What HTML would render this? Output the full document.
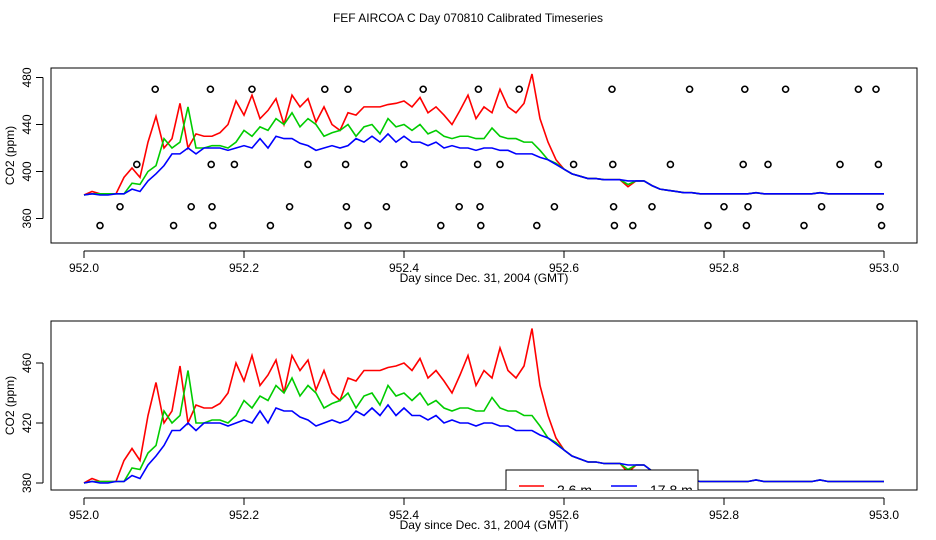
<!DOCTYPE html>
<html><head><meta charset="utf-8"><style>
body{margin:0;background:#fff}
svg{display:block;font-family:"Liberation Sans",sans-serif}
</style></head><body>
<svg id="c" width="936" height="540" viewBox="0 0 936 540">
<text x="468" y="22" text-anchor="middle" font-size="12">FEF AIRCOA C  Day 070810  Calibrated Timeseries</text>
</svg>
<script>
const days=[];for(let i=0;i<=100;i++)days.push(952+i/100);
const tail=[402,398,396,394,394,393,393,393,387,392,392,388,385,384,383,382,382,381,381,381,381,381,381,381,382,381,381,381,381,381,381,381,382,381,381,381,381,381,381,381,381];
const red=[380,383,381,381,381,395,403,395,425,447,420,428,458,420,432,430,430,433,440,460,448,465,445,452,462,440,465,455,462,442,455,440,435,450,448,455,455,455,457,458,460,455,463,450,455,448,440,452,465,445,455,450,470,455,450,458,483,445,425,410].concat(tail);
const green=[380,381,381,381,381,381,390,389,400,405,428,420,425,455,420,420,422,422,420,425,435,430,438,435,445,440,450,438,445,440,430,433,435,440,430,438,440,432,445,438,440,435,440,432,435,430,428,430,430,428,428,437,430,428,428,425,425,418,410,407].concat(tail.map((v,i)=>i==8?389:v));
const blue=[380,381,380,380,381,381,385,383,392,398,405,415,415,420,415,420,420,420,418,420,422,420,428,420,430,428,428,424,422,418,420,422,420,422,428,425,430,425,432,425,430,425,425,422,425,420,422,420,420,418,420,420,418,418,415,415,415,412,410,406].concat(tail.map(v=>v==387?392:v));
const obsDays=[952.02,952.045,952.066,952.089,952.112,952.134,952.158,952.159,952.160,952.161,952.188,952.21,952.233,952.257,952.28,952.301,952.33,952.328,952.327,952.33,952.355,952.378,952.4,952.424,952.446,952.469,952.492,952.493,952.495,952.496,952.52,952.544,952.566,952.588,952.612,952.66,952.661,952.662,952.663,952.686,952.71,952.733,952.757,952.78,952.8,952.824,952.826,952.828,952.83,952.855,952.877,952.9,952.922,952.945,952.968,952.99,952.993,952.995,952.997];
const obsVals=[354,370,406,470,354,370,470,406,370,354,406,470,354,370,406,470,354,370,406,470,354,370,406,470,354,370,406,470,370,354,406,470,354,370,406,470,406,370,354,354,370,406,470,354,370,406,470,354,370,406,470,354,370,406,470,470,406,370,354];
const yTicks1=[360,400,440,480], yTicks2=[380,420,460], xTicks=[952.0,952.2,952.4,952.6,952.8,953.0];
const svg=document.getElementById('c'),NS='http://www.w3.org/2000/svg';
function el(t,a,p){const e=document.createElementNS(NS,t);for(const k in a)e.setAttribute(k,a[k]);(p||svg).appendChild(e);return e;}
const X=d=>84+(d-952)*800;
function panel(name,top,bot,yv0,y0,pp,yt,circles){
  const g=el('g',{});
  
  
  const Y=v=>y0-(v-yv0)*pp;
  const cid='clip-'+name;
  const cp=el('clipPath',{id:cid},g);el('rect',{x:51,y:top,width:866,height:bot-top},cp);
  const f=el('rect',{x:51,y:top,width:866,height:bot-top,fill:'none',stroke:'#000'},g);
  
  
  const ax=el('line',{x1:X(952),x2:X(953),y1:bot+8,y2:bot+8,stroke:'#000'},g);
  
  
  xTicks.forEach(t=>{el('line',{x1:X(t),x2:X(t),y1:bot+8,y2:bot+15,stroke:'#000'},g);
    const tx=el('text',{x:X(t),y:bot+29,'text-anchor':'middle','font-size':12},g);tx.textContent=t.toFixed(1);
    
    });
  const xt=el('text',{x:484,y:bot+39,'text-anchor':'middle','font-size':12},g);xt.textContent='Day since Dec. 31, 2004 (GMT)';
  
  
  const ya=el('line',{x1:43,x2:43,y1:Y(yt[0]),y2:Y(yt[yt.length-1]),stroke:'#000'},g);
  
  
  yt.forEach(t=>{el('line',{x1:36,x2:43,y1:Y(t),y2:Y(t),stroke:'#000'},g);
    const tx=el('text',{x:31,y:Y(t),'text-anchor':'middle','font-size':12,transform:`rotate(-90 31 ${Y(t)})`},g);tx.textContent=t;
    
    });
  const yc=(top+bot)/2;
  const ytl=el('text',{x:14,y:yc,'text-anchor':'middle','font-size':12,transform:`rotate(-90 14 ${yc})`},g);ytl.textContent='CO2 (ppm)';
  
  
  const pg=el('g',{'clip-path':`url(#${cid})`},g);
  [[red,'#f00','red-series'],[green,'#0c0','green-series'],[blue,'#00f','blue-series']].forEach(([s,c,n])=>{
    const p=el('polyline',{points:s.map((v,i)=>X(days[i])+','+Y(v)).join(' '),fill:'none',stroke:c,'stroke-width':1.6},pg);
    
    });
  if(circles)obsDays.forEach((d,i)=>{const c=el('circle',{cx:X(d),cy:Y(obsVals[i]),r:3,fill:'none',stroke:'#000','stroke-width':1.6},pg);
    
    });
  return {g,Y,pg};
}
panel('top-panel',68,243,380,195,1.175,yTicks1,true);
const b=panel('bottom-panel',321,490,380,483,1.5,yTicks2,false);
const lg=el('g',{'clip-path':'url(#clip-bottom-panel)'});


el('rect',{x:506,y:470,width:192,height:30,fill:'#fff',stroke:'#000'},lg);
el('line',{x1:519,x2:544,y1:486,y2:486,stroke:'#f00','stroke-width':1.5},lg);
const t1=el('text',{x:557,y:495,'font-size':14},lg);t1.textContent='2.6 m';


el('line',{x1:611,x2:637,y1:486,y2:486,stroke:'#00f','stroke-width':1.5},lg);
const t2=el('text',{x:650,y:495,'font-size':14},lg);t2.textContent='17.8 m';


</script>
</body></html>
